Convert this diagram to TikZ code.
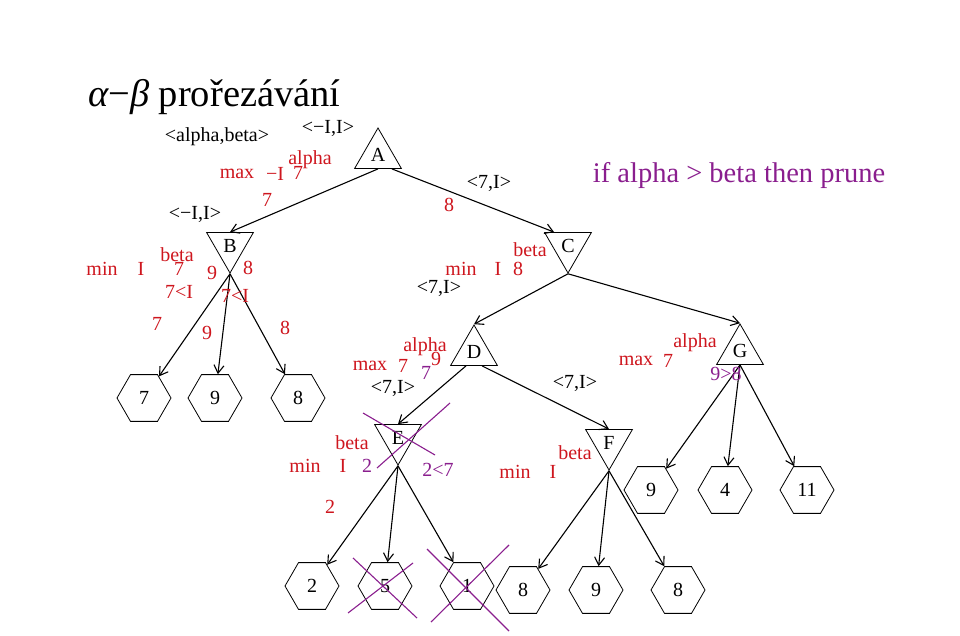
\documentclass[tikz,border=0pt]{standalone}
\usepackage{fontspec}
\setmainfont{Liberation Serif}
\usepackage{tikz}
\usetikzlibrary{shapes.geometric}
\usetikzlibrary{arrows.meta}
\definecolor{redlbl}{RGB}{206,22,30}
\definecolor{purlbl}{RGB}{138,30,142}
\tikzset{
  lbl/.style={inner sep=0pt, font=\fontsize{20}{23}\selectfont},
  maxtri/.style={draw, thick, regular polygon, regular polygon sides=3, minimum size=54pt, inner sep=0pt, font=\fontsize{20}{23}\selectfont},
  mintri/.style={maxtri, shape border rotate=180},
  leaf/.style={draw, thick, regular polygon, regular polygon sides=6, minimum size=54pt, inner sep=0pt, font=\fontsize{20}{23}\selectfont},
  edge/.style={line width=1.1pt, -{Straight Barb[length=8pt,width=10pt]}},
  prunecross/.style={line width=1.1pt, draw=purlbl}
}
\newcommand{\maxnode}[4]{\node[maxtri] (#1) at ( #2 , #3 ) {#4};}
\newcommand{\minnode}[4]{\node[mintri] (#1) at ( #2 , #3 ) {#4};}
\newcommand{\hexleaf}[4]{\node[leaf] (#1) at ( #2 , #3 ) {#4};}
\newcommand{\lablblk}[4]{\node[lbl] (#1) at ( #2 , #3 ) {#4};}
\newcommand{\lablred}[4]{\node[lbl,text=redlbl] (#1) at ( #2 , #3 ) {#4};}
\newcommand{\lablpur}[4]{\node[lbl,text=purlbl] (#1) at ( #2 , #3 ) {#4};}
\newcommand{\prune}[4]{\draw[prunecross] ( #1 , #2 ) -- ( #3 , #4 );}

\begin{document}
\begin{tikzpicture}[x=1pt,y=-1pt]
        \useasboundingbox (0,0) rectangle (960,636);

        % title
        \node[inner sep=0pt, anchor=west, font=\fontsize{38.5}{44}\selectfont] (title) at (88,97) {{\itshape α}−{\itshape β} prořezávání};
        \node[inner sep=0pt, text=purlbl, font=\fontsize{28.5}{32}\selectfont] (rule) at (739,176) {if alpha > beta then prune};

        % tree nodes
        \maxnode{A}{378}{155}{A}
        \minnode{B}{230}{246}{B}
        \minnode{C}{568}{246}{C}
        \maxnode{D}{474}{352}{D}
        \maxnode{G}{740}{351}{G}
        \minnode{E}{398}{438}{E}
        \minnode{F}{609}{443}{F}

        % leaves
        \hexleaf{b1}{144}{398}{7}
        \hexleaf{b2}{215}{398}{9}
        \hexleaf{b3}{298}{398}{8}

        \hexleaf{g1}{651}{490}{9}
        \hexleaf{g2}{725}{490}{4}
        \hexleaf{g3}{807}{490}{11}

        \hexleaf{e1}{312}{586}{2}
        \hexleaf{e2}{385}{586}{5}
        \hexleaf{e3}{467}{586}{1}

        \hexleaf{f1}{523}{590}{8}
        \hexleaf{f2}{596}{590}{9}
        \hexleaf{f3}{678}{590}{8}

        % edges
        \draw[edge] (A.south) -- (B.north);
        \draw[edge] (A.-45) -- (C.135);
        \draw[edge] (B.south) -- (b1);
        \draw[edge] (B.south) -- (b2);
        \draw[edge] (B.south) -- (b3);
        \draw[edge] (C.south) -- (D.north);
        \draw[edge] (C.south) -- (G.north);
        \draw[edge] (D.-120) -- (E.north);
        \draw[edge] (D.-60) -- (F.north);
        \draw[edge] (E.south) -- (e1);
        \draw[edge] (E.south) -- (e2);
        \draw[edge] (E.south) -- (e3);
        \draw[edge] (F.south) -- (f1);
        \draw[edge] (F.south) -- (f2);
        \draw[edge] (F.south) -- (f3);
        \draw[edge] (G.south) -- (g1);
        \draw[edge] (G.south) -- (g2);
        \draw[edge] (G.south) -- (g3);

        % windows
        \lablblk{ab}{217}{137}{<alpha,beta>}
        \lablblk{wa}{328}{128}{<−I,I>}
        \lablblk{wb}{195}{214}{<−I,I>}
        \lablblk{wc}{489}{183}{<7,I>}
        \lablblk{wcd}{439}{288}{<7,I>}
        \lablblk{wde}{393}{388}{<7,I>}
        \lablblk{wdf}{575}{383}{<7,I>}

        % node A
        \lablred{amax}{237}{174}{max}
        \lablred{aval}{275}{174}{−I}
        \lablred{aseven}{298}{173}{7}
        \lablred{aalpha}{310}{160}{alpha}
        \lablred{abval}{267}{200}{7}
        \lablred{acval}{449}{205}{8}

        % node B
        \lablred{bmin}{102}{269}{min}
        \lablred{bval}{141}{269}{I}
        \lablred{bbeta}{177}{255}{beta}
        \lablred{bseven}{179}{269}{7}
        \lablred{bnine}{212}{273}{9}
        \lablred{beight}{248}{268}{8}
        \lablred{bcmpa}{179}{292}{7<I}
        \lablred{bcmpb}{235}{296}{7<I}
        \lablred{bone}{157}{324}{7}
        \lablred{btwo}{207}{333}{9}
        \lablred{bthree}{285}{328}{8}

        % node C
        \lablred{cbeta}{530}{250}{beta}
        \lablred{cmin}{461}{269}{min}
        \lablred{cval}{498}{269}{I}
        \lablred{ceight}{518}{269}{8}

        % node D
        \lablred{dalpha}{425}{347}{alpha}
        \lablred{dmax}{370}{366}{max}
        \lablred{dseven}{403}{366}{7}
        \lablred{dnine}{436}{359}{9}
        \lablpur{dnew}{426}{373}{7}

        % node G
        \lablred{galpha}{695}{343}{alpha}
        \lablred{gmax}{636}{361}{max}
        \lablred{gseven}{668}{361}{7}
        \lablpur{gcmp}{726}{374}{9>8}

        % node E
        \lablred{ebeta}{352}{443}{beta}
        \lablred{emin}{305}{466}{min}
        \lablred{eval}{343}{466}{I}
        \lablpur{etwo}{367}{466}{2}
        \lablpur{ecmp}{438}{470}{2<7}
        \lablred{eone}{330}{507}{2}

        % node F
        \lablred{fbeta}{575}{453}{beta}
        \lablred{fmin}{515}{472}{min}
        \lablred{fval}{553}{472}{I}

        % pruned
        \prune{363}{413}{435}{455}
        \prune{377}{468}{450}{403}
        \prune{353}{558}{417}{618}
        \prune{348}{613}{413}{563}
        \prune{427}{549}{509}{631}
        \prune{431}{622}{509}{545}

\end{tikzpicture}
\end{document}
